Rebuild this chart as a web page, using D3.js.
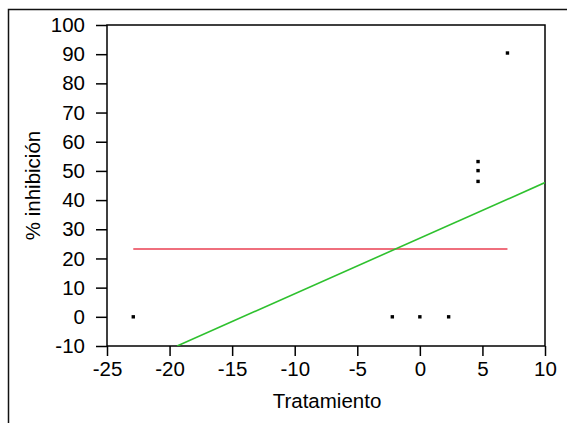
<!DOCTYPE html>
<html>
  <head>
    <style>
    body { margin: 0; background: #fff; }
    text { font-family: Arial, "Liberation Sans", sans-serif; }
    </style>
    <script src="https://d3js.org/d3.v7.min.js"></script>
  </head>
  <body>
    <script type="text/javascript">
    // observed points
    var tratamiento = [-22.9, -2.2, 0, 2.3, 4.65, 4.65, 4.65, 7];
    var inhibicion  = [0, 0, 0, 0, 53.2, 50.1, 46.4, 90.4];
    // horizontal (mean) line and fitted line end points
    var meanLine = [[-22.9, 23.2], [7, 23.2]];
    var fitLine  = [[-19.4, -10], [10, 46]];
    var xTicks = [-25, -20, -15, -10, -5, 0, 5, 10];
    var yTicks = [-10, 0, 10, 20, 30, 40, 50, 60, 70, 80, 90, 100];

    var margin = {top: 25, right: 22, bottom: 77, left: 107},
    width = 567 - margin.left - margin.right,
    height = 423 - margin.top - margin.bottom;

    var root = d3.select("body")
      .append("svg")
      .attr("width", 567)
      .attr("height", 423);

    // outer frame (only top and left visible)
    root.append("rect")
      .attr("x", 8.5).attr("y", 9.5)
      .attr("width", 600).attr("height", 500)
      .attr("fill", "none")
      .attr("stroke", "#111")
      .attr("stroke-width", 1.5);

    var svg = root.append("g")
      .attr("transform", "translate(" + margin.left + "," + margin.top + ")");

    var xScale = d3.scaleLinear().domain([-25, 10]).range([0, width]);
    var yScale = d3.scaleLinear().domain([-10, 100]).range([height, 0]);

    var plain = function(d) { return String(d); };

    var xAxis = svg.append("g")
      .attr("transform", "translate(0," + height + ")")
      .call(d3.axisBottom(xScale).tickValues(xTicks).tickSize(10).tickPadding(5).tickFormat(plain));
    var yAxis = svg.append("g")
      .call(d3.axisLeft(yScale).tickValues(yTicks).tickSize(11).tickPadding(11).tickFormat(plain));

    [xAxis, yAxis].forEach(function(a) {
      a.select(".domain").remove();
      a.selectAll("line").attr("stroke", "#000").attr("stroke-width", 1.5);
      a.selectAll("text").attr("fill", "#000").style("font-size", "20.5px")
        .style("font-family", 'Arial, "Liberation Sans", sans-serif');
    });

    // plot box
    svg.append("rect")
      .attr("width", width).attr("height", height)
      .attr("fill", "none").attr("stroke", "#000").attr("stroke-width", 1.5);

    svg.append("clipPath").attr("id", "clip")
      .append("rect").attr("width", width).attr("height", height);

    var line = d3.line()
      .x(function(d) { return xScale(d[0]); })
      .y(function(d) { return yScale(d[1]); });

    svg.append("path").datum(meanLine)
      .attr("d", line).attr("fill", "none")
      .attr("stroke", "#ea3f52").attr("stroke-width", 1.5);

    svg.append("path").datum(fitLine)
      .attr("clip-path", "url(#clip)")
      .attr("d", line).attr("fill", "none")
      .attr("stroke", "#2ec12e").attr("stroke-width", 1.6);

    svg.selectAll(".pt")
      .data(tratamiento)
      .enter().append("rect")
      .attr("class", "pt")
      .attr("x", function(d) { return xScale(d) - 1.7; })
      .attr("y", function(d, i) { return yScale(inhibicion[i]) - 1.7; })
      .attr("width", 3.4).attr("height", 3.4)
      .attr("fill", "#000");

    svg.append("text")
      .attr("x", width / 2 + 1).attr("y", height + 62)
      .attr("text-anchor", "middle")
      .style("font-size", "20.5px")
      .text("Tratamiento");

    svg.append("text")
      .attr("transform", "translate(-67," + (height / 2 + 0) + ") rotate(-90)")
      .attr("text-anchor", "middle")
      .style("font-size", "20.5px")
      .text("% inhibición");
    </script>
  </body>
</html>
